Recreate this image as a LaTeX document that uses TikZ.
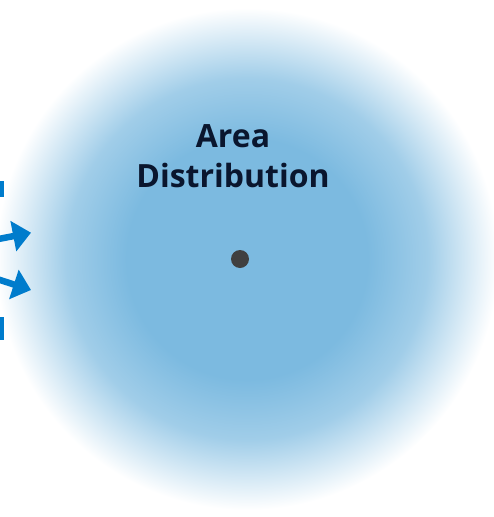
\documentclass[tikz,border=0pt]{standalone}
\usepackage{xcolor}
\usepackage{fontspec}
\setsansfont{Open Sans}
\usepackage{tikz}
\usetikzlibrary{arrows.meta,positioning,calc}
\definecolor{areablue}{RGB}{124, 186, 224}
\definecolor{feedblue}{RGB}{0, 124, 204}
\definecolor{labelnavy}{RGB}{10, 22, 46}
\definecolor{pingrey}{RGB}{64, 64, 64}
\pgfdeclareradialshading{areaglow}{\pgfpoint{0bp}{0bp}}{color(0bp)=(areablue); color(12bp)=(areablue); color(18bp)=(areablue!72!white); color(25bp)=(white); color(50bp)=(white)}

\begin{document}
\begin{tikzpicture}[x=1pt, y=-1pt,
  glow/.style={circle, shading=areaglow, minimum size=502pt, inner sep=0pt},
  title/.style={font=\sffamily\bfseries\fontsize{32}{40}\selectfont, text=labelnavy, align=center, inner sep=0pt},
  pin/.style={circle, fill=pingrey, minimum size=18pt, inner sep=0pt},
  feed/.style={draw=feedblue, line width=6.5pt, -{Triangle[length=18pt,width=30pt]}},
  stub/.style={fill=feedblue}
]
\useasboundingbox (0,0) rectangle (494,517);
\clip (0,0) rectangle (494,517);

\node[glow] (area) at (247,259) {};
\node[title] (label) at (233,156) {Area\\Distribution};
\node[pin] (centre) at (240,259) {};

% incoming feeds from the left
\coordinate (src1) at (-20,242.6);
\coordinate (hit1) at (31,232.7);
\coordinate (src2) at (-20,273.5);
\coordinate (hit2) at (31,290);

% Connections
\draw[feed] (src1) -- (hit1);
\draw[feed] (src2) -- (hit2);

% cut-off edges
\fill[stub] (-2,181) rectangle (3.5,197);
\fill[stub] (-2,317) rectangle (3.5,340);

\end{tikzpicture}
\end{document}
